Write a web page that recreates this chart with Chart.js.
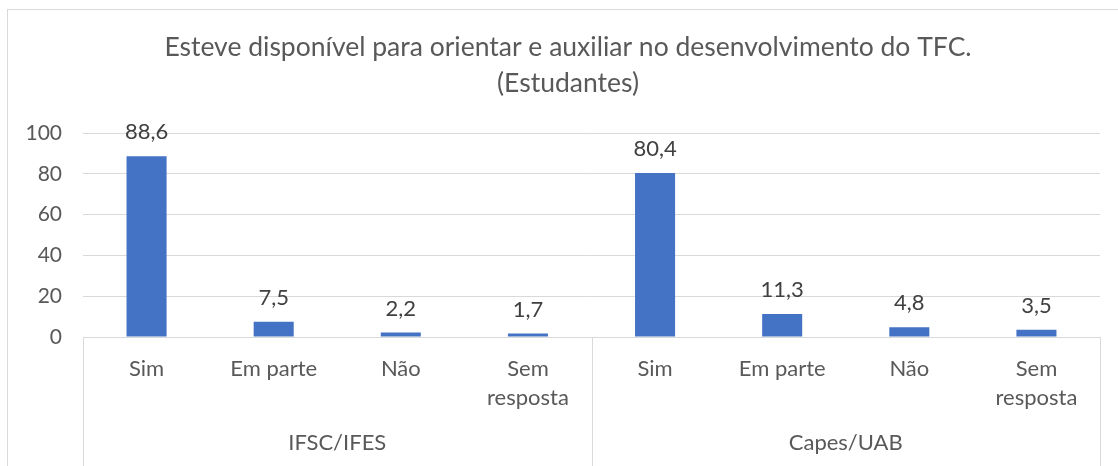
<!DOCTYPE html>
<html>
<head>
<meta charset="utf-8">
<script src="https://cdn.jsdelivr.net/npm/chart.js@4/dist/chart.umd.min.js"></script>
<style>
  html, body { margin: 0; padding: 0; background: #fff; }
  #wrap { position: relative; width: 1118px; height: 466px; }
</style>
</head>
<body>
<div id="wrap"><canvas id="chart"></canvas></div>
<script>
// data
const titleLines = ['Esteve disponível para orientar e auxiliar no desenvolvimento do TFC.', '(Estudantes)'];
const answers = ['Sim', 'Em parte', 'Não', ['Sem', 'resposta']];
const groups = ['IFSC/IFES', 'Capes/UAB'];
const ifscValues = [88.6, 7.5, 2.2, 1.7];
const capesValues = [80.4, 11.3, 4.8, 3.5];
const yTicks = [0, 20, 40, 60, 80, 100];

const labels = answers.concat(answers);
const values = ifscValues.concat(capesValues);

const textColor = '#595959';
const lineColor = '#d9d9d9';
const fontName = 'Lato, "Open Sans", sans-serif';

// value labels above bars, comma as decimal mark
const barLabels = {
  id: 'barLabels',
  afterDatasetsDraw(chart) {
    const ctx = chart.ctx;
    const meta = chart.getDatasetMeta(0);
    ctx.save();
    ctx.font = '22px ' + fontName;
    ctx.fillStyle = '#404040';
    ctx.textAlign = 'center';
    ctx.textBaseline = 'bottom';
    meta.data.forEach((bar, i) => {
      const txt = values[i].toFixed(1).replace('.', ',');
      ctx.fillText(txt, bar.x, bar.y - 13);
    });
    ctx.restore();
  }
};

// outer frame, group separators and group names under the category labels
const groupAxis = {
  id: 'groupAxis',
  beforeDraw(chart) {
    const ctx = chart.ctx;
    ctx.save();
    ctx.strokeStyle = lineColor;
    ctx.lineWidth = 1;
    ctx.strokeRect(7.5, 9.5, 1400, 800);
    ctx.restore();
  },
  afterDraw(chart) {
    const ctx = chart.ctx;
    const x = chart.scales.x;
    const area = chart.chartArea;
    const per = answers.length;
    ctx.save();
    ctx.strokeStyle = lineColor;
    ctx.lineWidth = 1;
    const seps = [x.left];
    for (let g = 1; g < groups.length; g++) {
      seps.push((x.getPixelForValue(g * per - 1) + x.getPixelForValue(g * per)) / 2);
    }
    seps.push(x.right);
    seps.forEach(px => {
      const sx = Math.round(px) + 0.5;
      ctx.beginPath();
      ctx.moveTo(sx, area.bottom);
      ctx.lineTo(sx, chart.height);
      ctx.stroke();
    });
    ctx.font = '22px ' + fontName;
    ctx.fillStyle = textColor;
    ctx.textAlign = 'center';
    ctx.textBaseline = 'middle';
    groups.forEach((name, g) => {
      const cx = (seps[g] + seps[g + 1]) / 2;
      ctx.fillText(name, cx, area.bottom + 106);
    });
    ctx.restore();
  }
};

new Chart(document.getElementById('chart'), {
  type: 'bar',
  data: {
    labels: labels,
    datasets: [{
      data: values,
      yAxisID: 'y',
      backgroundColor: '#4472C4',
      barPercentage: 1,
      categoryPercentage: 0.315
    }]
  },
  options: {
    responsive: true,
    maintainAspectRatio: false,
    animation: false,
    layout: { padding: { left: 18, right: 0, top: 12, bottom: 0 } },
    scales: {
      x: {
        grid: { display: false, drawTicks: false },
        border: { display: true, color: lineColor },
        ticks: {
          color: textColor,
          font: { family: fontName, size: 22, lineHeight: 1.32 },
          padding: 17,
          maxRotation: 0,
          autoSkip: false
        },
        afterFit: s => { s.height = 129; }
      },
      y: {
        min: 0,
        max: 100,
        afterBuildTicks: s => { s.ticks = yTicks.map(v => ({ value: v })); },
        grid: { color: lineColor, drawTicks: false },
        border: { display: false },
        ticks: {
          color: textColor,
          font: { family: fontName, size: 21 },
          padding: 21
        },
        afterFit: s => { s.width = 65; }
      },
      // empty right margin so the title centres like the original
      yRight: {
        position: 'right',
        min: 0,
        max: 100,
        grid: { display: false, drawTicks: false },
        border: { display: false },
        ticks: { display: false },
        afterFit: s => { s.width = 18; }
      }
    },
    plugins: {
      legend: { display: false },
      tooltip: { enabled: false },
      title: {
        display: true,
        text: titleLines,
        color: textColor,
        font: { family: fontName, size: 26.5, weight: 'normal', lineHeight: 1.34 },
        padding: { top: 18, bottom: 32 }
      }
    }
  },
  plugins: [barLabels, groupAxis]
});
</script>
</body>
</html>
